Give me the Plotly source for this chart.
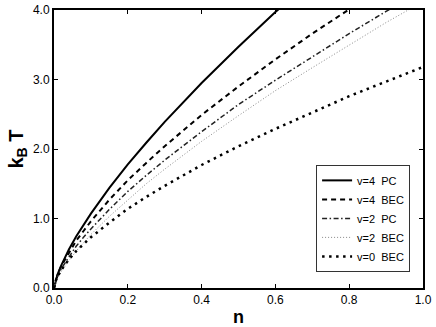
import plotly.graph_objects as go

# density n and temperature k_B T
n_v4_pc = [0, 0.005, 0.01, 0.02, 0.04, 0.06, 0.08, 0.1, 0.15, 0.2, 0.25, 0.3, 0.4, 0.5, 0.6, 0.7]
t_v4_pc = [0, 0.12, 0.20, 0.33, 0.55, 0.74, 0.91, 1.07, 1.44, 1.78, 2.09, 2.39, 2.95, 3.47, 3.97, 4.44]

n_v4_bec = [0, 0.005, 0.01, 0.02, 0.04, 0.06, 0.08, 0.1, 0.15, 0.2, 0.25, 0.3, 0.4, 0.5, 0.6, 0.7, 0.8, 0.9]
t_v4_bec = [0, 0.12, 0.20, 0.32, 0.51, 0.68, 0.82, 0.96, 1.27, 1.55, 1.80, 2.04, 2.49, 2.90, 3.29, 3.66, 4.01, 4.34]

n_v2 = [0, 0.005, 0.01, 0.02, 0.04, 0.06, 0.08, 0.1, 0.15, 0.2, 0.25, 0.3, 0.4, 0.5, 0.6, 0.7, 0.8, 0.9, 1.0]
t_v2_pc = [0, 0.10, 0.17, 0.28, 0.45, 0.60, 0.73, 0.85, 1.13, 1.39, 1.62, 1.84, 2.25, 2.64, 2.99, 3.33, 3.66, 3.98, 4.28]
t_v2_bec = [0, 0.09, 0.14, 0.24, 0.39, 0.53, 0.65, 0.77, 1.03, 1.27, 1.50, 1.71, 2.11, 2.48, 2.84, 3.17, 3.50, 3.82, 4.12]

n_v0 = [0, 0.005, 0.01, 0.02, 0.04, 0.06, 0.08, 0.1, 0.15, 0.2, 0.25, 0.3, 0.4, 0.5, 0.6, 0.7, 0.8, 0.9, 1.0]
t_v0_bec = [0, 0.11, 0.17, 0.26, 0.41, 0.53, 0.63, 0.73, 0.94, 1.14, 1.31, 1.47, 1.77, 2.04, 2.29, 2.53, 2.76, 2.97, 3.18]

x_ticks = [0, 0.2, 0.4, 0.6, 0.8, 1.0]
y_ticks = [0, 1, 2, 3, 4]

NB = '\u00a0'
fig = go.Figure()
fig.add_trace(go.Scatter(x=n_v4_pc, y=t_v4_pc, mode='lines', name=f'v=4{NB}{NB}PC',
                         line=dict(color='black', width=2)))
fig.add_trace(go.Scatter(x=n_v4_bec, y=t_v4_bec, mode='lines', name=f'v=4{NB}{NB}BEC',
                         line=dict(color='black', width=2, dash='5px,4px')))
fig.add_trace(go.Scatter(x=n_v2, y=t_v2_pc, mode='lines', name=f'v=2{NB}{NB}PC',
                         line=dict(color='#222', width=1.5, dash='5px,2.5px,1.5px,2.5px')))
fig.add_trace(go.Scatter(x=n_v2, y=t_v2_bec, mode='lines', name=f'v=2{NB}{NB}BEC',
                         line=dict(color='#888', width=1, dash='1px,2px')))
fig.add_trace(go.Scatter(x=n_v0, y=t_v0_bec, mode='lines', name=f'v=0{NB}{NB}BEC',
                         line=dict(color='black', width=2.5, dash='2.5px,4.5px')))

axis_common = dict(showline=True, linecolor='black', linewidth=2, mirror='ticks',
                   ticks='inside', ticklen=4, tickwidth=1, tickcolor='black',
                   showgrid=False, zeroline=False, automargin=False,
                   tickfont=dict(family='Liberation Sans, Arial', size=12, color='black'))

fig.update_layout(
    width=436, height=327,
    margin=dict(l=54, r=13, t=10, b=39, autoexpand=False),
    paper_bgcolor='white', plot_bgcolor='white',
    font=dict(family='Liberation Sans, Arial', color='black'),
    xaxis=dict(range=[0, 1], tickvals=x_ticks, ticktext=[f'{v:.1f}' for v in x_ticks],
               title=dict(text='<b>n</b>', font=dict(size=18), standoff=4), **axis_common),
    yaxis=dict(range=[0, 4], tickvals=y_ticks, ticktext=[f'{v:.1f}' for v in y_ticks],
               title=dict(text='<b>k<sub>B</sub> T</b>', font=dict(size=20), standoff=4), **axis_common),
    legend=dict(x=0.965, y=0.058, xanchor='right', yanchor='bottom',
                bgcolor='white', bordercolor='#333', borderwidth=1, itemwidth=30,
                font=dict(size=11, color='black'), tracegroupgap=0),
)

fig.write_html("out.html", config={'displayModeBar': False},
               post_script="document.body.style.margin='0';")
